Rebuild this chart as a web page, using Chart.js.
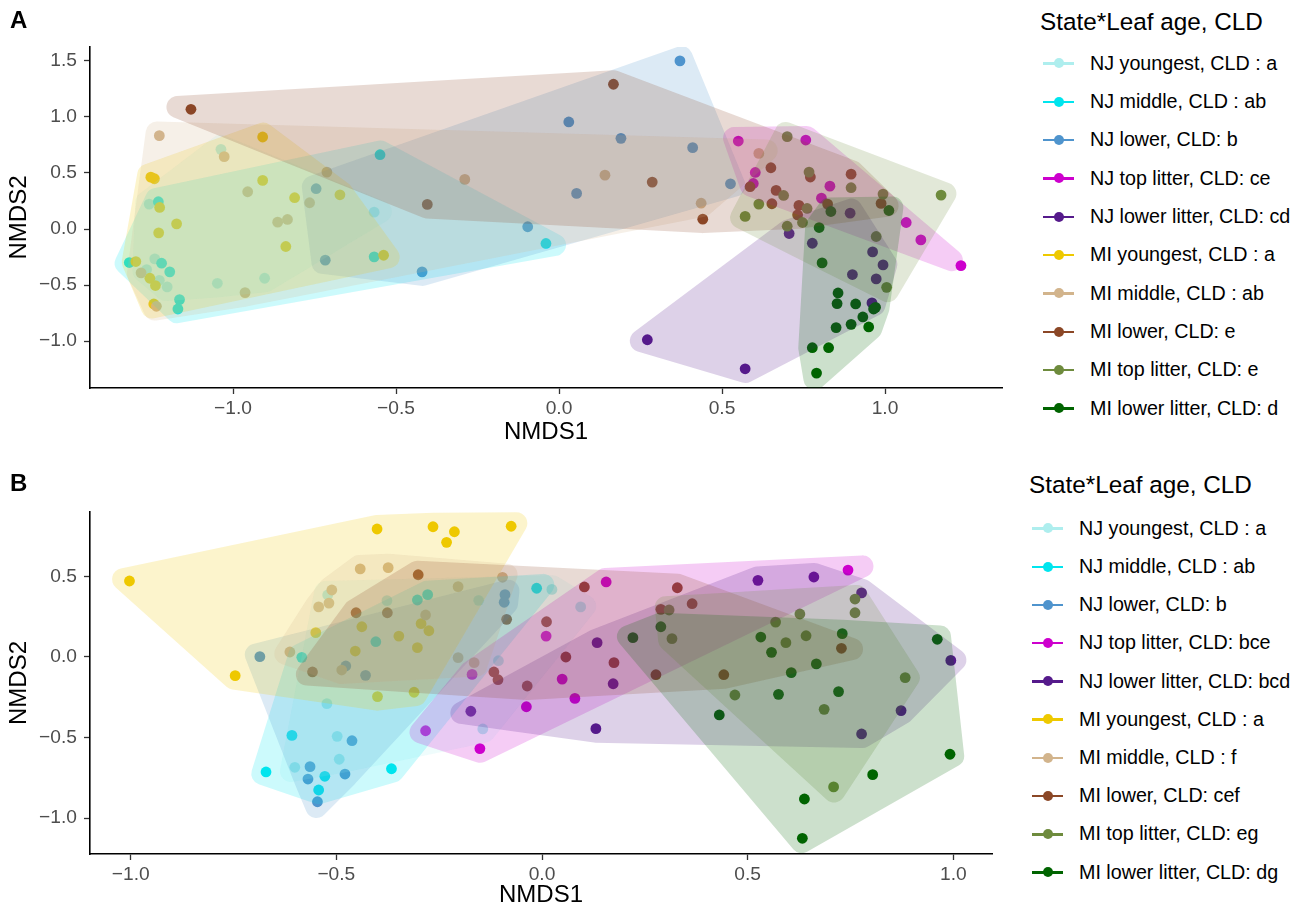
<!DOCTYPE html>
<html>
<head>
<meta charset="utf-8">
<script src="https://cdn.jsdelivr.net/npm/chart.js@4.4.1/dist/chart.umd.min.js"></script>
<style>
  html, body { margin:0; padding:0; background:#fff; width:1301px; height:913px; overflow:hidden; }
  body { position:relative; font-family:'Liberation Sans', Arial, Helvetica, sans-serif; }
  canvas { position:absolute; left:0; }
  .txt { position:absolute; white-space:nowrap; line-height:1; color:#000; }
  .sym { position:absolute; width:31px; height:10px; }
  .sym .ln { position:absolute; left:0; top:4px; width:31px; height:2.5px; }
  .sym .dt { position:absolute; left:10.5px; top:0; width:10px; height:10px; border-radius:50%; }
</style>
</head>
<body>
<canvas id="cA" width="1010" height="450" style="top:0px;width:1010px;height:450px"></canvas>
<canvas id="cB" width="1010" height="453" style="top:460px;width:1010px;height:453px"></canvas>
<div id="overlay"></div>
<script>
// ---------------- DATA ----------------
const groupNames = ['NJ youngest','NJ middle','NJ lower','NJ top litter','NJ lower litter',
                    'MI youngest','MI middle','MI lower','MI top litter','MI lower litter'];
const cldA = [' : a',' : ab',': b',': ce',': cd',' : a',' : ab',': e',': e',': d'];
const cldB = [' : a',' : ab',': b',': bce',': bcd',' : a',' : f',': cef',': eg',': dg'];

const xTicksA = [-1.0, -0.5, 0.0, 0.5, 1.0];
const yTicksA = [-1.0, -0.5, 0.0, 0.5, 1.0, 1.5];
const xTicksB = [-1.0, -0.5, 0.0, 0.5, 1.0];
const yTicksB = [-1.0, -0.5, 0.0, 0.5];

// Panel A (NMDS1, NMDS2)
const A_NJ_youngest = [[-1.037,0.710],[-1.257,0.222],[-1.240,-0.266],[-1.265,-0.362],[-1.226,-0.457],[-1.202,-0.516],[-1.048,-0.484],[-0.903,-0.439],[-0.567,0.150]];
const A_NJ_middle = [[-1.229,0.243],[-1.318,-0.299],[-1.219,-0.305],[-1.194,-0.382],[-1.164,-0.629],[-1.169,-0.713],[-0.549,0.662],[-0.567,-0.248],[-0.040,-0.129]];
const A_NJ_lower = [[-0.745,0.359],[-0.717,-0.278],[-0.420,-0.382],[-0.096,0.020],[0.030,0.954],[0.054,0.317],[0.371,1.498],[0.190,0.808],[0.410,0.725],[0.526,0.403]];
const A_NJ_top_litter = [[0.550,0.784],[0.602,0.504],[0.596,0.406],[0.757,0.793],[0.831,0.382],[0.805,0.275],[1.065,0.058],[1.110,-0.097],[1.233,-0.326]];
const A_NJ_lower_litter = [[0.271,-0.987],[0.571,-1.246],[0.893,0.141],[0.706,-0.040],[0.777,-0.127],[0.962,-0.204],[0.994,-0.320],[0.900,-0.406],[0.973,-0.445],[0.960,-0.659]];
const A_MI_youngest = [[-0.909,0.820],[-1.252,0.462],[-1.241,0.448],[-0.909,0.433],[-1.225,0.192],[-0.811,0.279],[-0.672,0.305],[-1.173,0.046],[-1.228,-0.034],[-0.838,-0.156],[-1.298,-0.290],[-1.255,-0.439],[-1.238,-0.504],[-1.243,-0.668],[-0.538,-0.234]];
const A_MI_middle = [[-1.226,0.832],[-1.027,0.645],[-0.712,0.507],[-0.955,0.332],[-0.765,0.234],[-0.863,0.061],[-0.833,0.085],[-1.282,-0.391],[-0.963,-0.567],[-1.235,-0.689],[-0.289,0.442],[0.141,0.480],[0.436,0.230],[0.613,0.674]];
const A_MI_lower = [[-1.129,1.067],[-0.404,0.219],[0.167,1.290],[0.286,0.418],[0.441,0.088],[0.650,0.546],[0.586,0.377],[0.666,0.344],[0.653,0.225],[0.771,0.463],[0.896,0.489],[0.824,0.222],[0.736,0.210],[0.732,0.126],[0.988,0.228]];
const A_MI_top_litter = [[0.613,0.222],[0.571,0.112],[0.700,0.823],[0.767,0.507],[0.896,0.368],[0.689,0.299],[0.761,0.183],[0.994,0.311],[1.172,0.302],[0.700,0.025],[0.747,0.058],[0.973,-0.067],[1.005,-0.520]];
const A_MI_lower_litter = [[0.834,0.156],[1.012,0.165],[0.798,0.013],[0.807,-0.302],[0.856,-0.570],[0.853,-0.665],[0.910,-0.668],[0.971,-0.698],[0.965,-0.713],[0.932,-0.784],[0.896,-0.850],[0.850,-0.879],[0.950,-0.873],[0.777,-1.058],[0.827,-1.058],[0.790,-1.284]];

// Panel B (NMDS1, NMDS2)
const B_NJ_youngest = [[-0.521,0.385],[-0.523,-0.290],[-0.498,-0.493],[-0.601,-0.685],[-0.493,-0.635],[-0.377,0.350],[-0.154,0.352],[-0.106,-0.023],[0.024,0.420],[-0.144,-0.447],[0.094,0.311]];
const B_NJ_middle = [[-0.584,-0.002],[-0.608,-0.487],[-0.671,-0.714],[-0.528,-0.741],[-0.543,-0.826],[-0.303,0.354],[-0.278,0.387],[-0.404,0.095],[-0.013,0.427],[-0.366,-0.694]];
const B_NJ_lower = [[-0.686,0.002],[-0.564,-0.681],[-0.569,-0.758],[-0.546,-0.899],[-0.090,0.387],[-0.092,0.340],[-0.477,-0.056],[-0.429,-0.114],[-0.462,-0.520],[-0.479,-0.727]];
const B_NJ_top_litter = [[0.010,0.130],[-0.170,-0.108],[0.049,-0.137],[-0.038,-0.309],[0.080,-0.257],[-0.283,-0.458],[-0.151,-0.569],[0.156,0.466],[0.744,0.540]];
const B_NJ_lower_litter = [[-0.173,-0.337],[0.134,0.089],[0.173,-0.166],[0.131,-0.445],[0.525,0.476],[0.661,0.497],[0.777,0.398],[0.994,-0.021],[0.873,-0.333],[0.777,-0.478]];
const B_MI_youngest = [[-1.003,0.472],[-0.746,-0.116],[-0.550,0.151],[-0.401,0.795],[-0.265,0.809],[-0.213,0.778],[-0.232,0.712],[-0.075,0.812],[-0.294,0.207],[-0.275,0.163],[-0.438,0.188],[-0.348,0.130],[-0.454,0.037],[-0.303,0.058],[-0.311,-0.219],[-0.400,-0.246]];
const B_MI_middle = [[-0.511,0.416],[-0.543,0.311],[-0.518,0.335],[-0.613,0.031],[-0.442,0.547],[-0.374,0.555],[-0.204,0.437],[-0.096,0.495],[-0.283,0.261],[-0.487,-0.081],[-0.204,-0.004],[-0.165,-0.035]];
const B_MI_lower = [[-0.558,-0.093],[-0.301,0.511],[-0.452,0.275],[-0.376,0.275],[-0.086,0.234],[0.011,0.219],[-0.117,-0.093],[-0.107,-0.141],[0.058,0.000],[-0.036,-0.180],[0.103,0.435],[0.329,0.430],[0.365,0.331],[0.289,0.296],[0.175,-0.035],[0.277,-0.110],[0.442,-0.110],[0.728,0.054]];
const B_MI_top_litter = [[0.309,0.292],[0.316,0.114],[0.568,0.217],[0.469,-0.236],[0.761,0.360],[0.761,0.275],[0.627,0.267],[0.642,0.132],[0.593,0.089],[0.686,-0.325],[0.883,-0.128],[0.709,-0.807]];
const B_MI_lower_litter = [[0.289,0.188],[0.221,0.120],[0.532,0.124],[0.558,0.029],[0.431,-0.360],[0.575,-0.232],[0.730,0.145],[0.667,-0.043],[0.606,-0.097],[0.721,-0.215],[0.961,0.110],[0.992,-0.604],[0.804,-0.731],[0.638,-0.882],[0.633,-1.126]];

const panelA = [A_NJ_youngest, A_NJ_middle, A_NJ_lower, A_NJ_top_litter, A_NJ_lower_litter,
                A_MI_youngest, A_MI_middle, A_MI_lower, A_MI_top_litter, A_MI_lower_litter];
const panelB = [B_NJ_youngest, B_NJ_middle, B_NJ_lower, B_NJ_top_litter, B_NJ_lower_litter,
                B_MI_youngest, B_MI_middle, B_MI_lower, B_MI_top_litter, B_MI_lower_litter];

// ---------------- STYLE ----------------
const groupColors = ['#AEEEEE','#00E5EE','#4F94CD','#CD00CD','#551A8B',
                     '#EEC900','#D2B48C','#8B4726','#6E8B3D','#006400'];
const FONT = "'Liberation Sans', Arial, Helvetica, sans-serif";
const HULL_EXPAND = 14, HULL_RADIUS = 11, HULL_ALPHA = 0.2;

function hexA(hex, a) {
  const n = parseInt(hex.slice(1), 16);
  return `rgba(${(n>>16)&255},${(n>>8)&255},${n&255},${a})`;
}
function fmt(v) { return (Math.abs(v) < 1e-9 ? '0.0' : v.toFixed(1)).replace('-', '\u2212'); }

function convexHull(pts) {
  const p = pts.slice().sort((a,b)=> a[0]-b[0] || a[1]-b[1]);
  const cross = (o,a,b) => (a[0]-o[0])*(b[1]-o[1]) - (a[1]-o[1])*(b[0]-o[0]);
  const lower = [], upper = [];
  for (const q of p) { while (lower.length>=2 && cross(lower[lower.length-2], lower[lower.length-1], q) <= 0) lower.pop(); lower.push(q); }
  for (let i=p.length-1;i>=0;i--) { const q=p[i]; while (upper.length>=2 && cross(upper[upper.length-2], upper[upper.length-1], q) <= 0) upper.pop(); upper.push(q); }
  upper.pop(); lower.pop();
  return lower.concat(upper);
}

function hullPath(ctx, hull, e, R) {
  const n = hull.length;
  const cx = hull.reduce((s,q)=>s+q[0],0)/n, cy = hull.reduce((s,q)=>s+q[1],0)/n;
  const normals = [];
  for (let i=0;i<n;i++) {
    const a = hull[i], b = hull[(i+1)%n];
    let dx=b[0]-a[0], dy=b[1]-a[1]; const L=Math.hypot(dx,dy)||1;
    let nx=dy/L, ny=-dx/L;
    const mx=(a[0]+b[0])/2-cx, my=(a[1]+b[1])/2-cy;
    if (nx*mx+ny*my < 0) { nx=-nx; ny=-ny; }
    normals.push([nx,ny]);
  }
  const m = [];
  for (let i=0;i<n;i++) {
    const n1 = normals[(i-1+n)%n], n2 = normals[i];
    let d = 1 + n1[0]*n2[0] + n1[1]*n2[1]; if (d < 0.08) d = 0.08;
    m.push([hull[i][0] + e*(n1[0]+n2[0])/d, hull[i][1] + e*(n1[1]+n2[1])/d]);
  }
  const mid = (a,b)=>[(a[0]+b[0])/2,(a[1]+b[1])/2];
  ctx.beginPath();
  const s = mid(m[n-1], m[0]);
  ctx.moveTo(s[0], s[1]);
  for (let i=0;i<n;i++) {
    const cur=m[i], nxt=m[(i+1)%n], prv=m[(i-1+n)%n];
    const l1=Math.hypot(prv[0]-cur[0],prv[1]-cur[1]), l2=Math.hypot(nxt[0]-cur[0],nxt[1]-cur[1]);
    const c=((prv[0]-cur[0])*(nxt[0]-cur[0])+(prv[1]-cur[1])*(nxt[1]-cur[1]))/(l1*l2||1);
    const ang=Math.acos(Math.max(-1,Math.min(1,c)));
    const r=Math.max(0.1, Math.min(R, Math.min(l1,l2)/2*Math.tan(ang/2)));
    const en=mid(cur,nxt);
    ctx.arcTo(cur[0],cur[1],en[0],en[1],r);
  }
  ctx.closePath();
}

const hullPlugin = {
  id: 'hulls',
  afterDatasetsDraw(chart) {
    const {ctx, chartArea:ca, scales:{x, y}} = chart;
    ctx.save();
    ctx.beginPath(); ctx.rect(ca.left, ca.top, ca.right-ca.left, ca.bottom-ca.top); ctx.clip();
    chart.data.datasets.forEach((ds) => {
      const px = ds.data.map(p => [x.getPixelForValue(p.x), y.getPixelForValue(p.y)]);
      const h = convexHull(px);
      if (h.length < 3) return;
      hullPath(ctx, h, HULL_EXPAND, HULL_RADIUS);
      ctx.fillStyle = hexA(ds.baseColor, HULL_ALPHA);
      ctx.fill();
    });
    ctx.restore();
  }
};

function makeChart(canvasId, groups, cfg) {
  const datasets = groups.map((g, i) => ({
    label: groupNames[i],
    data: g.map(p => ({x:p[0], y:p[1]})),
    baseColor: groupColors[i],
    backgroundColor: groupColors[i],
    pointBackgroundColor: groupColors[i],
    pointBorderWidth: 0,
    pointRadius: 5.4,
    pointHoverRadius: 5.4,
    order: -i
  }));
  return new Chart(document.getElementById(canvasId), {
    type: 'scatter',
    data: { datasets },
    plugins: [hullPlugin],
    options: {
      responsive:false, animation:false, events:[], devicePixelRatio:1,
      layout:{ autoPadding:false, padding:{left:0, top:cfg.padTop, right:cfg.padRight, bottom:0} },
      plugins:{ legend:{display:false}, tooltip:{enabled:false} },
      scales:{
        x:{
          type:'linear', min:cfg.xmin, max:cfg.xmax,
          afterFit: s => { s.height = cfg.xAxisH; },
          afterBuildTicks: s => { s.ticks = cfg.xTicks.map(v=>({value:v})); },
          ticks:{ callback:fmt, font:{family:FONT, size:19.2}, color:'#4D4D4D', padding:3, maxRotation:0, autoSkip:false },
          grid:{ display:true, drawOnChartArea:false, drawTicks:true, tickLength:6, color:'#333333', tickWidth:1.3 },
          border:{ display:true, color:'#000', width:1.6 },
          title:{ display:true, text:'NMDS1', font:{family:FONT, size:24}, color:'#000', padding:{top:0, bottom:3} }
        },
        y:{
          type:'linear', min:cfg.ymin, max:cfg.ymax,
          afterFit: s => { s.width = 90; },
          afterBuildTicks: s => { s.ticks = cfg.yTicks.map(v=>({value:v})); },
          ticks:{ callback:fmt, font:{family:FONT, size:19.2}, color:'#4D4D4D', padding:7, autoSkip:false },
          grid:{ display:true, drawOnChartArea:false, drawTicks:true, tickLength:6, color:'#333333', tickWidth:1.3 },
          border:{ display:true, color:'#000', width:1.6 },
          title:{ display:true, text:'NMDS2', font:{family:FONT, size:24}, color:'#000', padding:{top:5, bottom:0} }
        }
      }
    }
  });
}

makeChart('cA', panelA, { padTop:47, padRight:8, xAxisH:62,
  xmin:(90-559)/326, xmax:(1002-559)/326, ymin:(229-388)/112.2, ymax:(229-47)/112.2,
  xTicks:xTicksA, yTicks:yTicksA });
makeChart('cB', panelB, { padTop:52, padRight:18, xAxisH:59,
  xmin:(90-542)/411.3, xmax:(992-542)/411.3, ymin:(657-854)/161, ymax:(657-512)/161,
  xTicks:xTicksB, yTicks:yTicksB });

// ---------------- LEGENDS & LABELS (HTML text) ----------------
const ov = document.getElementById('overlay');
function addText(txt, left, cy, size, bold) {
  const d = document.createElement('div');
  d.className = 'txt';
  d.textContent = txt;
  d.style.left = left + 'px';
  d.style.fontSize = size + 'px';
  d.style.top = (cy - 0.4885*size) + 'px';
  if (bold) d.style.fontWeight = 'bold';
  ov.appendChild(d);
}
function addLegend(title, cld, titleX, titleCy, symX, textX, row0, rowStep) {
  addText(title, titleX, titleCy, 24.3, false);
  groupNames.forEach((g, i) => {
    const cy = row0 + rowStep*i;
    const s = document.createElement('div');
    s.className = 'sym';
    s.style.left = symX + 'px';
    s.style.top = (cy - 5) + 'px';
    s.innerHTML = `<div class="ln" style="background:${groupColors[i]}"></div><div class="dt" style="background:${groupColors[i]}"></div>`;
    ov.appendChild(s);
    addText(`${g}, CLD${cld[i]}`, textX, cy, 19.7, false);
  });
}
addText('A', 10, 20, 24, true);
addText('B', 10, 483, 24, true);
addLegend('State*Leaf age, CLD', cldA, 1040, 22, 1043, 1090, 63.3, 38.33);
addLegend('State*Leaf age, CLD', cldB, 1029, 485, 1032, 1079, 528.3, 38.22);
</script>
</body>
</html>
